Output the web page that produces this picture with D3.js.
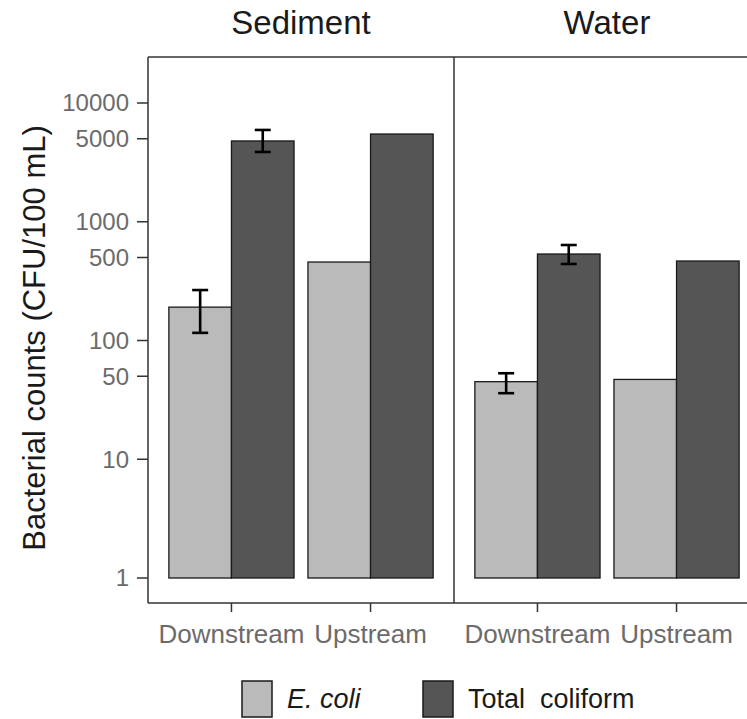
<!DOCTYPE html>
<html>
<head>
<meta charset="utf-8">
<script src="https://cdn.jsdelivr.net/npm/d3@7"></script>
<style>
  body { margin: 0; background: #fff; }
  text { font-family: "Liberation Sans", Arial, sans-serif; }
</style>
</head>
<body>
<div id="chart"></div>
<script>
const facets = ['Sediment', 'Water'];
const sites = ['Downstream', 'Upstream'];
const bacteria = ['E. coli', 'Total coliform'];
const yTicks = [1, 10, 50, 100, 500, 1000, 5000, 10000];

// mean counts, order: facet, site, bacteria
const ecoliValues = [191, 458, 45, 47];
const coliformValues = [4790, 5480, 535, 467];
// error bars (null where none drawn)
const ecoliLow = [116, null, 36, null];
const ecoliHigh = [266, null, 53, null];
const coliformLow = [3870, null, 441, null];
const coliformHigh = [5930, null, 637, null];

const width = 747;
const height = 719;

const dims = {
  left: 148,
  top: 57,
  bottom: 603,
  facetWidth: 306
};

const rows = [];
facets.forEach((f, fi) => {
  sites.forEach((s, si) => {
    const i = fi * 2 + si;
    rows.push({ facet: f, site: s, bac: bacteria[0], value: ecoliValues[i], lo: ecoliLow[i], hi: ecoliHigh[i] });
    rows.push({ facet: f, site: s, bac: bacteria[1], value: coliformValues[i], lo: coliformLow[i], hi: coliformHigh[i] });
  });
});

const colors = d3.scaleOrdinal().domain(bacteria).range(['#bababa', '#555555']);

const svg = d3.select('#chart')
  .append('svg')
  .attr('width', width)
  .attr('height', height);

// log y scale, 1 at 578 and 10000 at 103
const y = d3.scaleLog().domain([1, 10000]).range([578, 103]);

const facetX = d3.scaleBand()
  .domain(facets)
  .range([dims.left, dims.left + dims.facetWidth * 2])
  .paddingInner(0);

// discrete x with ggplot-like 0.6 expansion
const unit = dims.facetWidth / 2.2;
const siteX = d3.scalePoint()
  .domain(sites)
  .range([0.6 * unit, 1.6 * unit]);
const barW = 0.9 * unit;
const dodge = d3.scaleBand()
  .domain(bacteria)
  .range([-barW / 2, barW / 2])
  .padding(0);

// facet panels
facets.forEach(f => {
  const g = svg.append('g').attr('transform', `translate(${facetX(f)},0)`);
  const data = rows.filter(d => d.facet === f);

  g.selectAll('rect.bar')
    .data(data)
    .enter()
    .append('rect')
    .attr('class', 'bar')
    .attr('x', d => siteX(d.site) + dodge(d.bac))
    .attr('width', dodge.bandwidth())
    .attr('y', d => y(d.value))
    .attr('height', d => y(1) - y(d.value))
    .attr('fill', d => colors(d.bac))
    .attr('stroke', '#1a1a1a')
    .attr('stroke-width', 1.3);

  const errs = data.filter(d => d.lo != null);
  const cap = 8;
  const eg = g.selectAll('g.err')
    .data(errs)
    .enter()
    .append('g')
    .attr('class', 'err')
    .attr('stroke', '#000')
    .attr('stroke-width', 2.6);
  const cx = d => siteX(d.site) + dodge(d.bac) + dodge.bandwidth() / 2;
  eg.append('line')
    .attr('x1', cx).attr('x2', cx)
    .attr('y1', d => y(d.lo)).attr('y2', d => y(d.hi));
  eg.append('line')
    .attr('x1', d => cx(d) - cap).attr('x2', d => cx(d) + cap)
    .attr('y1', d => y(d.lo)).attr('y2', d => y(d.lo));
  eg.append('line')
    .attr('x1', d => cx(d) - cap).attr('x2', d => cx(d) + cap)
    .attr('y1', d => y(d.hi)).attr('y2', d => y(d.hi));

  // strip label
  g.append('text')
    .attr('x', dims.facetWidth / 2)
    .attr('y', 34)
    .attr('text-anchor', 'middle')
    .attr('font-size', 33)
    .attr('fill', '#1a1a1a')
    .text(f);

  // x axis ticks and labels
  sites.forEach(s => {
    g.append('line')
      .attr('x1', siteX(s)).attr('x2', siteX(s))
      .attr('y1', dims.bottom).attr('y2', dims.bottom + 9)
      .attr('stroke', '#333').attr('stroke-width', 1.5);
    g.append('text')
      .attr('x', siteX(s))
      .attr('y', 643)
      .attr('text-anchor', 'middle')
      .attr('font-size', 26)
      .attr('fill', '#6b6b6b')
      .text(s);
  });

  // divider / left border
  g.append('line')
    .attr('x1', 0).attr('x2', 0)
    .attr('y1', dims.top).attr('y2', dims.bottom)
    .attr('stroke', '#333').attr('stroke-width', 1.5);
});

// top and bottom borders
svg.append('line')
  .attr('x1', dims.left).attr('x2', width)
  .attr('y1', dims.top).attr('y2', dims.top)
  .attr('stroke', '#333').attr('stroke-width', 1.5);
svg.append('line')
  .attr('x1', dims.left).attr('x2', width)
  .attr('y1', dims.bottom).attr('y2', dims.bottom)
  .attr('stroke', '#333').attr('stroke-width', 1.5);

// y axis
const yAxis = svg.append('g');
yAxis.selectAll('line')
  .data(yTicks)
  .enter()
  .append('line')
  .attr('x1', dims.left - 11).attr('x2', dims.left)
  .attr('y1', d => y(d)).attr('y2', d => y(d))
  .attr('stroke', '#333').attr('stroke-width', 1.5);
yAxis.selectAll('text')
  .data(yTicks)
  .enter()
  .append('text')
  .attr('x', dims.left - 19)
  .attr('y', d => y(d))
  .attr('dy', '0.35em')
  .attr('text-anchor', 'end')
  .attr('font-size', 24)
  .attr('fill', '#6b6b6b')
  .text(d => d);

svg.append('text')
  .attr('transform', `translate(45,338) rotate(-90)`)
  .attr('text-anchor', 'middle')
  .attr('font-size', 31)
  .attr('fill', '#1a1a1a')
  .text('Bacterial counts (CFU/100 mL)');

// legend
const legend = svg.append('g').attr('transform', 'translate(0,699)');
const legendX = [242, 423];
bacteria.forEach((b, i) => {
  legend.append('rect')
    .attr('x', legendX[i]).attr('y', -18)
    .attr('width', 30).attr('height', 36)
    .attr('fill', colors(b))
    .attr('stroke', '#1a1a1a').attr('stroke-width', 1.5);
  legend.append('text')
    .attr('x', legendX[i] + 45)
    .attr('y', 0)
    .attr('dy', '0.35em')
    .attr('font-size', 27)
    .attr('font-style', i === 0 ? 'italic' : 'normal')
    .attr('fill', '#1a1a1a')
    .text(i === 0 ? 'E. coli' : 'Total  coliform')
    .style('white-space', 'pre');
});
</script>
</body>
</html>
